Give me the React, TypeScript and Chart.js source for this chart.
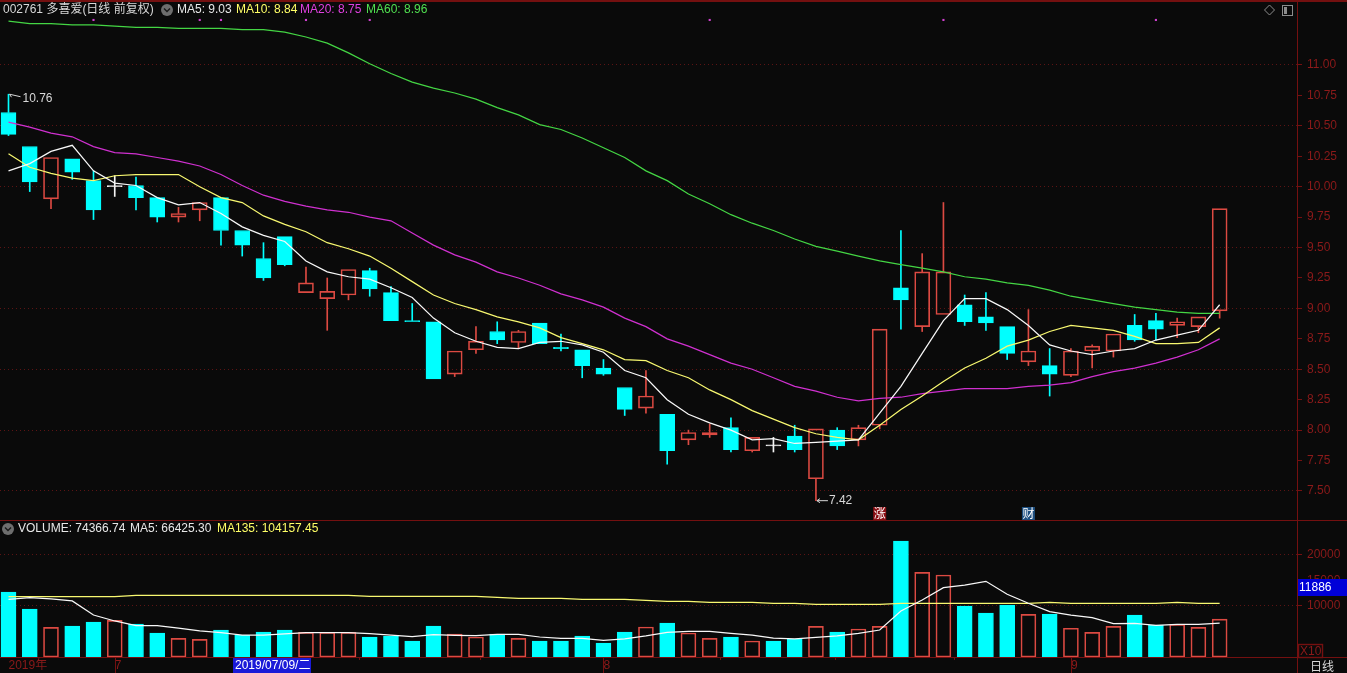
import React, { useEffect, useRef } from "react";
import { Chart, registerables } from "chart.js";

Chart.register(...registerables);

const opens = [
  10.61, 10.33, 9.9, 10.23, 10.05, 10.0, 10.01, 9.91, 9.75, 9.81,
  9.91, 9.64, 9.41, 9.59, 9.13, 9.08, 9.11, 9.31, 9.13, 8.9,
  8.89, 8.46, 8.66, 8.81, 8.72, 8.88, 8.68, 8.66, 8.51, 8.35,
  8.18, 8.13, 7.92, 7.96, 8.02, 7.83, 7.87, 7.95, 7.6, 8.0,
  7.92, 8.04, 9.17, 8.85, 8.95, 9.03, 8.93, 8.85, 8.56, 8.53,
  8.45, 8.65, 8.65, 8.86, 8.9, 8.86, 8.85, 8.98,
];
const closes = [
  10.43, 10.04, 10.24, 10.12, 9.81, 10.0, 9.91, 9.75, 9.78, 9.87,
  9.64, 9.52, 9.25, 9.36, 9.21, 9.14, 9.32, 9.16, 8.9, 8.89,
  8.42, 8.65, 8.73, 8.74, 8.81, 8.71, 8.67, 8.53, 8.46, 8.17,
  8.28, 7.83, 7.98, 7.98, 7.84, 7.94, 7.87, 7.84, 8.01, 7.87,
  8.02, 8.83, 9.07, 9.3, 9.3, 8.89, 8.88, 8.63, 8.65, 8.46,
  8.65, 8.69, 8.79, 8.74, 8.83, 8.89, 8.93, 9.82,
];
const highs = [
  10.76, 10.33, 10.24, 10.23, 10.13, 10.09, 10.08, 9.91, 9.83, 9.87,
  9.91, 9.64, 9.54, 9.59, 9.34, 9.25, 9.32, 9.33, 9.18, 9.04,
  8.89, 8.65, 8.85, 8.89, 8.82, 8.88, 8.79, 8.66, 8.58, 8.35,
  8.49, 8.13, 8.0, 8.05, 8.1, 7.94, 7.94, 8.04, 8.01, 8.02,
  8.04, 8.83, 9.64, 9.45, 9.87, 9.11, 9.13, 8.85, 8.99, 8.67,
  8.67, 8.7, 8.79, 8.95, 8.96, 8.92, 8.93, 9.82,
];
const lows = [
  10.42, 9.96, 9.82, 10.06, 9.73, 9.92, 9.81, 9.71, 9.71, 9.72,
  9.52, 9.43, 9.23, 9.35, 9.13, 8.82, 9.07, 9.1, 8.9, 8.89,
  8.42, 8.44, 8.63, 8.71, 8.67, 8.71, 8.65, 8.43, 8.45, 8.12,
  8.14, 7.72, 7.88, 7.94, 7.82, 7.82, 7.82, 7.82, 7.42, 7.84,
  7.87, 8.01, 8.83, 8.81, 8.95, 8.86, 8.82, 8.58, 8.53, 8.28,
  8.44, 8.51, 8.6, 8.73, 8.74, 8.76, 8.8, 8.92,
];
const ma5 = [
  10.13, 10.19, 10.29, 10.34, 10.13, 10.03, 10.01, 9.91, 9.85, 9.87,
  9.78, 9.67, 9.6, 9.55, 9.39, 9.3, 9.26, 9.24, 9.17, 9.09,
  8.92, 8.8, 8.73, 8.68, 8.67, 8.72, 8.73, 8.7, 8.64, 8.49,
  8.43, 8.25, 8.13, 8.06, 8.0, 7.92, 7.93, 7.89, 7.9, 7.91,
  7.92, 8.14, 8.36, 8.63, 8.9, 9.08, 9.08, 8.99, 8.86, 8.7,
  8.65, 8.62, 8.65, 8.67, 8.74, 8.78, 8.82, 9.03,
];
const ma10 = [
  10.27, 10.16, 10.11, 10.07, 10.05, 10.09, 10.1, 10.1, 10.1, 10.0,
  9.91, 9.87, 9.76, 9.69, 9.63, 9.54, 9.49, 9.43, 9.33, 9.22,
  9.11, 9.04, 8.99, 8.93, 8.89, 8.84, 8.76, 8.71, 8.66, 8.58,
  8.57, 8.49, 8.43, 8.33, 8.25, 8.16, 8.09, 8.02, 7.97, 7.94,
  7.92, 8.04, 8.17, 8.28, 8.4, 8.51, 8.59, 8.69, 8.74, 8.81,
  8.86, 8.84, 8.82, 8.77, 8.71, 8.71, 8.72, 8.84,
];
const ma20 = [
  10.53, 10.49, 10.44, 10.41, 10.33, 10.28, 10.27, 10.24, 10.21, 10.17,
  10.1, 10.01, 9.93, 9.88, 9.84, 9.81, 9.79, 9.75, 9.72, 9.62,
  9.52, 9.44, 9.38, 9.3, 9.25, 9.19, 9.12, 9.07, 9.01, 8.92,
  8.85, 8.75, 8.69, 8.62, 8.55, 8.5, 8.43, 8.36, 8.32, 8.27,
  8.24, 8.26, 8.27, 8.3, 8.32, 8.34, 8.34, 8.34, 8.36, 8.37,
  8.39, 8.44, 8.48, 8.51, 8.55, 8.6, 8.66, 8.75,
];
const ma60 = [
  11.36, 11.34, 11.34, 11.33, 11.33, 11.32, 11.31, 11.31, 11.3, 11.3,
  11.3, 11.29, 11.29, 11.27, 11.23, 11.18, 11.1, 11.01, 10.93, 10.86,
  10.81, 10.77, 10.72, 10.65, 10.59, 10.51, 10.47, 10.4, 10.32, 10.24,
  10.13, 10.05, 9.94, 9.86, 9.77, 9.7, 9.64, 9.57, 9.51, 9.47,
  9.43, 9.39, 9.36, 9.33, 9.3, 9.26, 9.24, 9.21, 9.19, 9.15,
  9.1, 9.07, 9.04, 9.01, 8.99, 8.97, 8.96, 8.96,
];
const volumes = [
  12740, 9408, 5820, 6076, 6860, 7190, 6470, 4700, 3660, 3470,
  5290, 4250, 4900, 5290, 4840, 4840, 4840, 3920, 4120, 3140,
  6080, 4510, 3920, 4510, 3660, 3140, 3140, 4120, 2740, 4900,
  5880, 6660, 4700, 3660, 3920, 3140, 3140, 3530, 6010, 4900,
  5490, 6010, 22740, 16600, 16070, 10000, 8620, 10190, 8370, 8430,
  5630, 4840, 6010, 8230, 6270, 6410, 5820, 7437,
];
const volumeMa5 = [
  11310, 11620, 11370, 10980, 8230, 7060, 6130, 6130, 5680, 5100,
  4760, 4310, 4310, 4510, 4760, 4760, 4760, 4570, 4310, 3980,
  4370, 4250, 4170, 4450, 4450, 3920, 3670, 3670, 3270, 3530,
  4120, 4840, 5040, 5040, 4650, 4310, 3720, 3530, 3860, 4120,
  4650, 5290, 9020, 11170, 13580, 14110, 14840, 12290, 10530, 8880,
  8230, 7700, 6530, 6610, 6210, 6410, 6410, 6642,
];
const volumeMa135 = [
  11820, 11820, 11820, 11820, 11820, 11820, 12090, 12090, 12090, 12090,
  12090, 12090, 12090, 12090, 12090, 12090, 12090, 11900, 11900, 11900,
  11900, 11900, 11900, 11700, 11500, 11500, 11500, 11310, 11310, 11310,
  11110, 10920, 10920, 10720, 10720, 10720, 10530, 10530, 10330, 10330,
  10330, 10330, 10530, 10530, 10530, 10530, 10530, 10530, 10530, 10720,
  10530, 10530, 10530, 10530, 10530, 10720, 10530, 10530,
];
const dojiVolumeUp = [5];
const priceTicks = [7.5, 7.75, 8, 8.25, 8.5, 8.75, 9, 9.25, 9.5, 9.75, 10, 10.25, 10.5, 10.75, 11];
const volumeTicks = [10000, 15000, 20000];
const monthTicks = [
  { index: 0, label: "2019年" },
  { index: 5, label: "7" },
  { index: 28, label: "8" },
  { index: 50, label: "9" },
];
const minorTicks = [16.5, 22.2, 33.5, 38.9, 44.5];
const eventDots = [4, 9, 10, 14, 17, 33, 44, 54];
const eventLevel = 11.37;
const peak = { index: 0, value: 10.76, label: "10.76" };
const trough = { index: 38, value: 7.42, label: "7.42" };
const badges = [
  { index: 41, text: "涨", color: "#8a0f14" },
  { index: 48, text: "财", color: "#1d4f80" },
];
const priceHeader = [
  { text: "MA5: 9.03", color: "#e8e8e8", x: 177 },
  { text: "MA10: 8.84", color: "#ffff66", x: 236 },
  { text: "MA20: 8.75", color: "#e040e0", x: 300 },
  { text: "MA60: 8.96", color: "#50e050", x: 366 },
];
const volumeHeader = [
  { text: "VOLUME: 74366.74", color: "#e8e8e8", x: 18 },
  { text: "MA5: 66425.30", color: "#e8e8e8", x: 130 },
  { text: "MA135: 104157.45", color: "#ffff66", x: 217 },
];

const BG = "#0a0a0a";
const CYAN = "#00ffff";
const RED = "#dc4a42";
const WHITE = "#f4f4f4";
const FRAME = "#741010";
const AXIS_TEXT = "#8c1a1a";
const GRID = "#5c1414";
const FONT = "'Liberation Sans', Arial, sans-serif";
const CJK = "'Liberation Sans', 'Noto Sans CJK SC', sans-serif";
const LINE_WIDTH = 1.25;

const xMin = -0.4;
const xMax = 60.64;

const tone = (i: number) => (closes[i] > opens[i] ? RED : closes[i] < opens[i] ? CYAN : WHITE);
const bodyFill = (i: number) => (closes[i] > opens[i] ? "transparent" : tone(i));
const volUp = (i: number) => closes[i] > opens[i] || dojiVolumeUp.includes(i);

const zeroPadding = (s: any) => {
  s.paddingTop = 0;
  s.paddingBottom = 0;
  s.paddingLeft = 0;
  s.paddingRight = 0;
};

function icon(ctx: CanvasRenderingContext2D, x: number, y: number) {
  ctx.fillStyle = "#6e6e6e";
  ctx.beginPath();
  ctx.arc(x, y, 6, 0, Math.PI * 2);
  ctx.fill();
  ctx.strokeStyle = "#1a1a1a";
  ctx.lineWidth = 1.4;
  ctx.beginPath();
  ctx.moveTo(x - 3, y - 1.5);
  ctx.lineTo(x, y + 1.5);
  ctx.lineTo(x + 3, y - 1.5);
  ctx.stroke();
}

const priceOverlay = {
  id: "priceOverlay",
  afterDraw(chart: any) {
    const { ctx, scales } = chart;
    const xs = scales.x;
    const ys = scales.y;
    ctx.save();
    ctx.fillStyle = FRAME;
    ctx.fillRect(0, 0, 1347, 2);
    ctx.fillRect(0, 520, 1347, 1);
    ctx.fillRect(1297, 0, 1, 521);

    ctx.textBaseline = "middle";
    ctx.textAlign = "left";
    ctx.font = `12px ${CJK}`;
    ctx.fillStyle = "#d8d8d8";
    ctx.fillText("002761 多喜爱(日线 前复权)", 3, 10);
    icon(ctx, 167, 10);
    ctx.font = `12px ${FONT}`;
    priceHeader.forEach((h) => {
      ctx.fillStyle = h.color;
      ctx.fillText(h.text, h.x, 10);
    });

    ctx.strokeStyle = "#8c8c8c";
    ctx.lineWidth = 1;
    ctx.beginPath();
    ctx.moveTo(1269.5, 5);
    ctx.lineTo(1274.5, 10);
    ctx.lineTo(1269.5, 15);
    ctx.lineTo(1264.5, 10);
    ctx.closePath();
    ctx.stroke();
    ctx.strokeRect(1282.5, 5.5, 10, 10);
    ctx.fillStyle = "#8c8c8c";
    ctx.fillRect(1284, 7, 3, 7);

    const px = xs.getPixelForValue(peak.index);
    const py = ys.getPixelForValue(peak.value);
    ctx.strokeStyle = "#d8d8d8";
    ctx.beginPath();
    ctx.moveTo(px + 1, py);
    ctx.lineTo(px + 12, py + 2.5);
    ctx.moveTo(px + 1, py);
    ctx.lineTo(px + 3, py + 3);
    ctx.stroke();
    ctx.fillStyle = "#d8d8d8";
    ctx.fillText(peak.label, px + 14, py + 4);

    const tx = xs.getPixelForValue(trough.index);
    const ty = ys.getPixelForValue(trough.value);
    ctx.beginPath();
    ctx.moveTo(tx + 1, ty);
    ctx.lineTo(tx + 12, ty);
    ctx.moveTo(tx + 1, ty);
    ctx.lineTo(tx + 4, ty - 2);
    ctx.moveTo(tx + 1, ty);
    ctx.lineTo(tx + 4, ty + 2);
    ctx.stroke();
    ctx.fillText(trough.label, tx + 13, ty);

    badges.forEach((b) => {
      const bx = xs.getPixelForValue(b.index);
      ctx.fillStyle = b.color;
      ctx.fillRect(bx - 6.5, 507, 13, 13);
      ctx.fillStyle = "#ffffff";
      ctx.textAlign = "center";
      ctx.font = "12px 'Noto Sans CJK SC', sans-serif";
      ctx.fillText(b.text, bx, 513.5);
    });
    ctx.restore();
  },
};

const volumeOverlay = {
  id: "volumeOverlay",
  afterDraw(chart: any) {
    const { ctx, scales } = chart;
    const xs = scales.x;
    ctx.save();
    ctx.fillStyle = FRAME;
    ctx.fillRect(0, 136, 1347, 1);
    ctx.fillRect(1297, 0, 1, 152);
    monthTicks.slice(1).forEach((m) => {
      ctx.fillRect(Math.round(xs.getPixelForValue(m.index)), 136, 1, 16);
    });
    minorTicks.forEach((t) => {
      ctx.fillRect(Math.round(xs.getPixelForValue(t)), 137, 1, 2);
    });

    ctx.textBaseline = "middle";
    ctx.textAlign = "left";
    icon(ctx, 8, 8);
    ctx.font = `12px ${FONT}`;
    volumeHeader.forEach((h) => {
      ctx.fillStyle = h.color;
      ctx.fillText(h.text, h.x, 8);
    });

    ctx.fillStyle = "#0000d8";
    ctx.fillRect(1298, 58, 49, 17);
    ctx.fillStyle = "#ffffff";
    ctx.fillText("11886", 1299, 66.5);

    ctx.strokeStyle = FRAME;
    ctx.strokeRect(1298.5, 123.5, 24, 13);
    ctx.fillStyle = AXIS_TEXT;
    ctx.fillText("X10", 1300, 130.5);

    ctx.fillStyle = "#1a1ad8";
    ctx.fillRect(233, 137, 78, 15);
    ctx.fillStyle = "#ffffff";
    ctx.font = `12px ${CJK}`;
    ctx.fillText("2019/07/09/二", 235, 145);

    ctx.fillStyle = "#d8d8d8";
    ctx.font = "12px 'Noto Sans CJK SC', sans-serif";
    ctx.textAlign = "center";
    ctx.fillText("日线", 1322, 145);
    ctx.restore();
  },
};

const indices = opens.map((_, i) => i);

function priceConfig(): any {
  const line = (data: number[], color: string) => ({
    type: "line",
    data: data.map((y, x) => ({ x, y })),
    borderColor: color,
    borderWidth: LINE_WIDTH,
    pointRadius: 0,
    tension: 0,
    order: 0,
  });
  const wick = {
    type: "bar",
    grouped: false,
    barThickness: 1,
    order: 3,
    backgroundColor: (c: any) => (c.raw ? tone(c.raw.x) : CYAN),
    borderWidth: 0,
  };
  return {
    type: "bar",
    data: {
      datasets: [
        line(ma5, "#f8f8f8"),
        line(ma10, "#f8f870"),
        line(ma20, "#d030d0"),
        line(ma60, "#44d644"),
        {
          type: "scatter",
          data: eventDots.map((x) => ({ x, y: eventLevel })),
          pointStyle: "rect",
          pointRadius: 1.5,
          backgroundColor: "#d040d0",
          borderWidth: 0,
          order: 1,
        },
        {
          ...wick,
          data: indices
            .filter((i) => highs[i] > Math.max(opens[i], closes[i]))
            .map((i) => ({ x: i, y: [Math.max(opens[i], closes[i]), highs[i]] })),
        },
        {
          ...wick,
          data: indices
            .filter((i) => lows[i] < Math.min(opens[i], closes[i]))
            .map((i) => ({ x: i, y: [lows[i], Math.min(opens[i], closes[i])] })),
        },
        {
          type: "bar",
          grouped: false,
          barThickness: 15,
          minBarLength: 1,
          order: 2,
          data: indices.map((i) => ({ x: i, y: [opens[i], closes[i]] })),
          backgroundColor: (c: any) => bodyFill(c.raw.x),
          borderColor: (c: any) => tone(c.raw.x),
          borderWidth: 1,
          borderSkipped: false,
        },
      ],
    },
    options: {
      responsive: false,
      animation: false,
      devicePixelRatio: 1,
      layout: { autoPadding: false, padding: { top: 3, bottom: 1, left: 0, right: 0 } },
      plugins: { legend: { display: false }, tooltip: { enabled: false } },
      scales: {
        x: {
          type: "linear",
          display: false,
          min: xMin,
          max: xMax,
          offset: false,
          ticks: { display: false },
          grid: { offset: false },
          afterFit: (s: any) => {
            s.height = 0;
            zeroPadding(s);
          },
        },
        y: {
          position: "right",
          min: 11 - 455 / 121.7,
          max: 11 + 62 / 121.7,
          afterFit: (s: any) => {
            s.width = 50;
            zeroPadding(s);
          },
          afterBuildTicks: (s: any) => {
            s.ticks = priceTicks.map((value) => ({ value }));
          },
          ticks: {
            autoSkip: false,
            padding: 5,
            color: AXIS_TEXT,
            font: { family: FONT, size: 12 },
            callback: (v: any) => Number(v).toFixed(2),
          },
          border: { color: FRAME, dash: [1, 3] },
          grid: {
            tickLength: 5,
            tickColor: FRAME,
            color: (c: any) => (c.tick && (c.tick.value * 2) % 1 === 0 ? GRID : "transparent"),
          },
        },
      },
    },
    plugins: [priceOverlay],
  };
}

function volumeConfig(): any {
  const line = (data: number[], color: string) => ({
    type: "line",
    data: data.map((y, x) => ({ x, y })),
    borderColor: color,
    borderWidth: LINE_WIDTH,
    pointRadius: 0,
    tension: 0,
    order: 0,
  });
  return {
    type: "bar",
    data: {
      datasets: [
        line(volumeMa5, "#f8f8f8"),
        line(volumeMa135, "#f8f870"),
        {
          type: "bar",
          grouped: false,
          barThickness: 15,
          order: 1,
          data: volumes.map((y, x) => ({ x, y })),
          backgroundColor: (c: any) => (volUp(c.raw.x) ? "transparent" : CYAN),
          borderColor: (c: any) => (volUp(c.raw.x) ? RED : CYAN),
          borderWidth: 1,
          borderSkipped: false,
        },
      ],
    },
    options: {
      responsive: false,
      animation: false,
      devicePixelRatio: 1,
      layout: { autoPadding: false, padding: { top: 1, bottom: 0, left: 0, right: 0 } },
      plugins: { legend: { display: false }, tooltip: { enabled: false } },
      scales: {
        x: {
          type: "linear",
          position: "bottom",
          min: xMin,
          max: xMax,
          offset: false,
          afterFit: (s: any) => {
            s.height = 16;
            zeroPadding(s);
          },
          afterBuildTicks: (s: any) => {
            s.ticks = monthTicks.map((m) => ({ value: m.index }));
          },
          ticks: {
            autoSkip: false,
            maxRotation: 0,
            align: "start",
            padding: 1,
            color: AXIS_TEXT,
            font: { family: CJK, size: 12 },
            callback: (v: any) => {
              const hit = monthTicks.find((m) => m.index === v);
              return hit ? hit.label : "";
            },
          },
          border: { display: false },
          grid: { display: true, drawOnChartArea: false, drawTicks: false, offset: false },
        },
        y: {
          position: "right",
          min: 0,
          max: 26460,
          afterFit: (s: any) => {
            s.width = 50;
            zeroPadding(s);
          },
          afterBuildTicks: (s: any) => {
            s.ticks = volumeTicks.map((value) => ({ value }));
          },
          ticks: {
            autoSkip: false,
            padding: 5,
            color: AXIS_TEXT,
            font: { family: FONT, size: 12 },
            callback: (v: any) => String(v),
          },
          border: { color: FRAME, dash: [1, 3] },
          grid: {
            tickLength: 5,
            tickColor: FRAME,
            color: (c: any) => (c.tick && c.tick.value % 10000 === 0 ? GRID : "transparent"),
          },
        },
      },
    },
    plugins: [volumeOverlay],
  };
}

export default function App() {
  const priceRef = useRef<HTMLCanvasElement>(null);
  const volumeRef = useRef<HTMLCanvasElement>(null);

  useEffect(() => {
    const a = new Chart(priceRef.current as any, priceConfig());
    const b = new Chart(volumeRef.current as any, volumeConfig());
    return () => {
      a.destroy();
      b.destroy();
    };
  }, []);

  return (
    <div style={{ position: "fixed", left: 0, top: 0, width: 1347, height: 673, background: BG, overflow: "hidden" }}>
      <canvas ref={priceRef} width={1347} height={521} style={{ position: "absolute", left: 0, top: 0 }} />
      <canvas ref={volumeRef} width={1347} height={152} style={{ position: "absolute", left: 0, top: 521 }} />
    </div>
  );
}
